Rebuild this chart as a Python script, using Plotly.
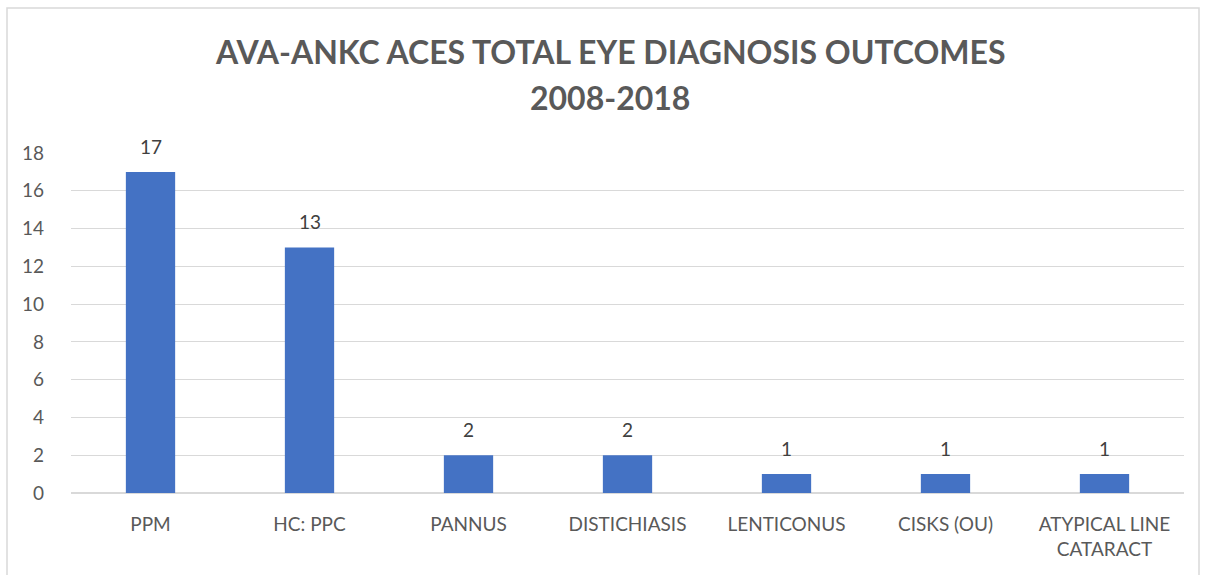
import plotly.graph_objects as go

categories = ["PPM", "HC: PPC", "PANNUS", "DISTICHIASIS", "LENTICONUS", "CISKS (OU)", "ATYPICAL LINE<br>CATARACT"]
values = [17, 13, 2, 2, 1, 1, 1]
y_ticks = [0, 2, 4, 6, 8, 10, 12, 14, 16, 18]
title_lines = ["AVA-ANKC ACES TOTAL EYE DIAGNOSIS OUTCOMES", "2008-2018"]

FONT = "Lato, 'Open Sans', Calibri, sans-serif"
GREY = "#595959"

fig = go.Figure(go.Bar(
    x=categories, y=values,
    marker=dict(color="#4472C4", line=dict(width=0)),
    cliponaxis=False, width=0.31, hoverinfo="skip",
))

W, H = 1205, 575
L, R, T, B = 71, 21, 153, 82
pw = W - L - R
ph = H - T - B

def px_x(x):
    return (x - L) / pw

def px_y(y):
    return (H - B - y) / ph

annotations = []
for c, v in zip(categories, values):
    annotations.append(dict(x=c, y=v, xref="x", yref="y", text=str(v), showarrow=False,
                            yanchor="bottom", yshift=12,
                            font=dict(size=19, color="#404040", family=FONT)))
for line, cy in zip(title_lines, [52, 98]):
    annotations.append(dict(x=px_x(610), y=px_y(cy), xref="paper", yref="paper", text="<b>" + line + "</b>",
                            showarrow=False, xanchor="center", yanchor="middle",
                            font=dict(size=32, color=GREY, family=FONT)))

fig.update_layout(
    width=W, height=H,
    margin=dict(l=L, r=R, t=T, b=B),
    paper_bgcolor="white", plot_bgcolor="white",
    font=dict(family=FONT, color=GREY),
    xaxis=dict(showgrid=False, showline=False, ticks="", ticklabelstandoff=18,
               tickfont=dict(size=19, color=GREY, family=FONT)),
    yaxis=dict(range=[0, 18], tickvals=y_ticks, showgrid=True, gridcolor="#D9D9D9",
               gridwidth=1, zeroline=True, zerolinecolor="#D9D9D9", showline=False,
               ticks="", ticklabelstandoff=26,
               tickfont=dict(size=19, color=GREY, family=FONT)),
    showlegend=False,
    bargap=0.69,
    annotations=annotations,
    shapes=[dict(type="rect", xref="paper", yref="paper",
                 x0=px_x(7), x1=px_x(1199), y0=px_y(585), y1=px_y(8),
                 line=dict(color="#D9D9D9", width=1.5), fillcolor="rgba(0,0,0,0)", layer="below")],
)

fig.write_html("out.html", config={"displayModeBar": False},
               post_script="document.body.style.margin='0';document.body.style.overflow='hidden';")
